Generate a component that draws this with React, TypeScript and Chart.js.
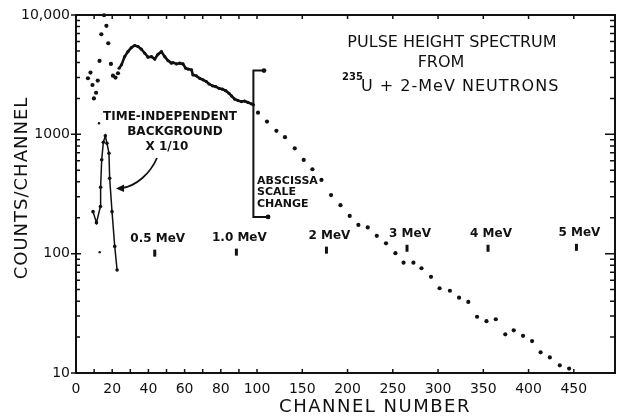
import React, { useEffect, useRef } from 'react';
import { Chart, registerables, LinearScale } from 'chart.js';

Chart.register(...registerables);

// ---------- data (channel number, counts/channel) ----------
const X_TICKS = [0, 10, 20, 30, 40, 50, 60, 70, 80, 90, 100, 150, 200, 250, 300, 350, 400, 450];
const X_TICK_LABELS = ['0', '20', '40', '60', '80', '100', '150', '200', '250', '300', '350', '400', '450'];
const Y_TICKS = [10, 100, 1000, 10000];
const Y_TICK_LABELS = ['10', '100', '1000', '10,000'];

// scattered points at the low-channel end of the spectrum
const EARLY_CH = [6.6, 8.0, 9.1, 9.9, 11.1, 12.0, 13.0, 14.0, 15.5, 16.8, 17.8, 19.3, 20.4, 21.8, 23.2];
const EARLY_COUNTS = [2950, 3290, 2590, 2000, 2230, 2820, 4120, 6900, 9950, 8110, 5800, 3890, 3100, 2990, 3250];

// dense part of the spectrum up to the abscissa scale change
const DENSE_CH = [23.8, 25.1, 26.9, 28.7, 30.6, 32.4, 34.3, 36.1, 38.0, 39.8, 41.7, 43.5, 45.3, 47.2, 49.0, 50.8, 52.7, 53.6, 55.5, 57.3, 59.1, 60.6, 61.9, 63.8, 64.6, 66.5, 68.3, 70.2, 72.0, 73.5, 75.4, 77.2, 79.0, 80.9, 82.7, 84.5, 85.9, 87.7, 89.5, 91.4, 93.2, 95.0, 96.9, 98.0];
const DENSE_COUNTS = [3580, 3820, 4480, 4930, 5330, 5550, 5440, 5170, 4780, 4430, 4480, 4270, 4690, 4930, 4480, 4150, 3950, 3990, 3890, 3950, 3890, 3580, 3520, 3470, 3150, 3090, 2950, 2860, 2770, 2640, 2550, 2510, 2430, 2390, 2320, 2210, 2100, 1970, 1920, 1880, 1900, 1850, 1800, 1770];

// points beyond the scale change
const HIGH_CH = [101.1, 111.0, 121.4, 130.9, 141.7, 151.6, 161.2, 171.2, 181.8, 192.2, 202.4, 212.0, 222.3, 232.3, 242.5, 252.9, 261.9, 272.8, 281.7, 292.2, 301.7, 313.1, 323.2, 333.4, 343.1, 353.5, 363.8, 374.3, 383.6, 393.9, 403.9, 413.3, 423.5, 434.5, 444.8];
const HIGH_COUNTS = [1520, 1280, 1070, 946, 764, 610, 510, 415, 310, 255, 207, 174, 166, 141, 122, 101, 84, 84, 75.5, 64, 51.3, 48.9, 42.8, 39.4, 29.6, 27.2, 28.2, 21.1, 22.8, 20.5, 18.5, 14.9, 13.5, 11.6, 10.9];

// time-independent background x 1/10
const BG_CH = [9.4, 11.3, 13.5, 13.6, 14.2, 15.1, 16.2, 17.1, 18.2, 18.6, 19.9, 21.4, 22.7];
const BG_COUNTS = [225, 182, 248, 360, 612, 859, 971, 842, 695, 428, 225, 115, 73];

// isolated stray dots
const STRAY_CH = [12.7, 13.1];
const STRAY_COUNTS = [1240, 103];

// energy calibration markers
const MEV_LABELS = ['0.5 MeV', '1.0 MeV', '2 MeV', '3 MeV', '4 MeV', '5 MeV'];
const MEV_CH = [43.5, 88.6, 176.7, 265.7, 355.2, 452.9];
const MEV_COUNTS = [101, 103, 107, 111, 111, 113];

// abscissa scale change bracket
const BRACKET_CH = [107.7, 98.0, 98.0, 112.2];
const BRACKET_COUNTS = [3420, 3420, 203, 203];

// axis break: channels above 100 are drawn at half scale
const BREAK_CH = 100;
const HIGH_RATIO = 0.5;
const X_MIN = 0;
const X_MAX = 495.5;

const INK = '#111111';
const FONT = '"DejaVu Sans", "Liberation Sans", sans-serif';

const toAxisUnits = (ch: number) => (ch <= BREAK_CH ? ch : BREAK_CH + (ch - BREAK_CH) * HIGH_RATIO);
const fromAxisUnits = (u: number) => (u <= BREAK_CH ? u : BREAK_CH + (u - BREAK_CH) / HIGH_RATIO);

class BrokenLinearScale extends LinearScale {
  static id = 'brokenLinear';
  static defaults = LinearScale.defaults;
  buildTicks() {
    return X_TICKS.map((v) => ({ value: v }));
  }
  getPixelForValue(value: number) {
    const u0 = toAxisUnits(X_MIN);
    const u1 = toAxisUnits(X_MAX);
    return this.getPixelForDecimal((toAxisUnits(value) - u0) / (u1 - u0));
  }
  getValueForPixel(pixel: number) {
    const u0 = toAxisUnits(X_MIN);
    const u1 = toAxisUnits(X_MAX);
    return fromAxisUnits(u0 + this.getDecimalForPixel(pixel) * (u1 - u0));
  }
}
Chart.register(BrokenLinearScale as any);

const pts = (xs: number[], ys: number[]) => xs.map((x, i) => ({ x, y: ys[i] }));

const overlay = {
  id: 'overlay',
  afterDatasetsDraw(chart: any) {
    const { ctx, chartArea: a, scales } = chart;
    const xs = scales.x;
    const ys = scales.y;
    ctx.save();
    ctx.strokeStyle = INK;
    ctx.fillStyle = INK;

    // frame
    ctx.lineWidth = 2;
    ctx.strokeRect(a.left, a.top, a.right - a.left, a.bottom - a.top);

    // x ticks (inside, bottom and top)
    ctx.lineWidth = 1.5;
    ctx.beginPath();
    X_TICKS.forEach((v) => {
      const px = xs.getPixelForValue(v);
      ctx.moveTo(px, a.bottom);
      ctx.lineTo(px, a.bottom - 4);
      ctx.moveTo(px, a.top);
      ctx.lineTo(px, a.top + 4);
    });
    // y ticks
    for (let d = 10; d <= 10000; d *= 10) {
      for (let m = 1; m <= 9; m++) {
        const v = d * m;
        if (v > 10000) break;
        const py = ys.getPixelForValue(v);
        if (m === 1) {
          ctx.moveTo(a.left - 5, py);
          ctx.lineTo(a.left + 5, py);
          ctx.moveTo(a.right, py);
          ctx.lineTo(a.right - 10, py);
        } else {
          ctx.moveTo(a.left, py);
          ctx.lineTo(a.left + 4, py);
          ctx.moveTo(a.right, py);
          ctx.lineTo(a.right - 5, py);
        }
      }
    }
    ctx.stroke();

    // axis titles
    ctx.textAlign = 'center';
    ctx.textBaseline = 'middle';
    ctx.font = `18px ${FONT}`;
    (ctx as any).letterSpacing = '1.5px';
    ctx.fillText('CHANNEL NUMBER', 375, 407);
    ctx.save();
    ctx.translate(22.5, 188);
    ctx.rotate(-Math.PI / 2);
    (ctx as any).letterSpacing = '1px';
    ctx.fillText('COUNTS/CHANNEL', 0, 0);
    ctx.restore();
    (ctx as any).letterSpacing = '0px';

    // figure caption
    ctx.font = `16px ${FONT}`;
    ctx.fillText('PULSE HEIGHT SPECTRUM', 452, 43);
    ctx.fillText('FROM', 441, 63);
    ctx.textAlign = 'left';
    (ctx as any).letterSpacing = '1px';
    ctx.fillText('U + 2-MeV NEUTRONS', 361, 87);
    (ctx as any).letterSpacing = '0px';
    ctx.font = `bold 10px ${FONT}`;
    ctx.fillText('235', 342, 77);

    // background annotation
    ctx.textAlign = 'center';
    ctx.font = `bold 12px ${FONT}`;
    ctx.fillText('TIME-INDEPENDENT', 170, 117);
    ctx.fillText('BACKGROUND', 175, 132);
    ctx.fillText('X 1/10', 167, 147);

    // arrow
    ctx.lineWidth = 1.8;
    ctx.beginPath();
    ctx.moveTo(157, 158);
    ctx.bezierCurveTo(150, 174, 136, 186, 122, 188);
    ctx.stroke();
    ctx.beginPath();
    ctx.moveTo(116, 188.5);
    ctx.lineTo(124, 184.5);
    ctx.lineTo(124, 192);
    ctx.closePath();
    ctx.fill();

    // scale change annotation
    ctx.textAlign = 'left';
    ctx.font = `bold 11px ${FONT}`;
    ctx.fillText('ABSCISSA', 257, 181);
    ctx.fillText('SCALE', 257, 192.5);
    ctx.fillText('CHANGE', 257, 204.5);

    // MeV labels
    ctx.textAlign = 'center';
    ctx.font = `bold 12px ${FONT}`;
    MEV_LABELS.forEach((lab, i) => {
      const px = xs.getPixelForValue(MEV_CH[i]);
      const py = ys.getPixelForValue(MEV_COUNTS[i]);
      ctx.fillText(lab, px + 3, py - 14.5);
    });
    ctx.restore();
  },
};

export default function App() {
  const ref = useRef<HTMLCanvasElement>(null);
  useEffect(() => {
    if (!ref.current) return;
    const dot = { showLine: false, pointRadius: 2.1, pointBackgroundColor: INK, pointBorderWidth: 0, clip: false as any };
    const chart = new Chart(ref.current, {
      type: 'scatter',
      data: {
        datasets: [
          { label: 'early', data: pts(EARLY_CH, EARLY_COUNTS), ...dot },
          {
            label: 'spectrum',
            data: pts(DENSE_CH, DENSE_COUNTS),
            showLine: true,
            borderColor: INK,
            borderWidth: 2.6,
            pointRadius: 1.6,
            pointBackgroundColor: INK,
            pointBorderWidth: 0,
            clip: false as any,
          },
          { label: 'high', data: pts(HIGH_CH, HIGH_COUNTS), ...dot },
          {
            label: 'background',
            data: pts(BG_CH, BG_COUNTS),
            showLine: true,
            borderColor: INK,
            borderWidth: 1.5,
            pointRadius: 1.8,
            pointBackgroundColor: INK,
            pointBorderWidth: 0,
            clip: false as any,
          },
          { label: 'stray', data: pts(STRAY_CH, STRAY_COUNTS), ...dot, pointRadius: 1.2 },
          {
            label: 'bracket',
            data: pts(BRACKET_CH, BRACKET_COUNTS),
            showLine: true,
            borderColor: INK,
            borderWidth: 2,
            pointRadius: [2.4, 0, 0, 2.4],
            pointBackgroundColor: INK,
            pointBorderWidth: 0,
            clip: false as any,
          },
          {
            label: 'markers',
            data: pts(MEV_CH, MEV_COUNTS),
            showLine: false,
            pointStyle: 'line',
            rotation: 90,
            pointRadius: 3.5,
            borderColor: INK,
            pointBorderColor: INK,
            pointBorderWidth: 3,
            clip: false as any,
          },
        ],
      },
      options: {
        animation: false,
        responsive: false,
        devicePixelRatio: 1,
        events: [],
        layout: { padding: { left: 0, top: 15, right: 8, bottom: 0 } },
        plugins: { legend: { display: false }, tooltip: { enabled: false }, title: { display: false } },
        scales: {
          x: {
            type: 'brokenLinear' as any,
            min: X_MIN,
            max: X_MAX,
            grid: { display: false, drawTicks: false },
            border: { display: false },
            ticks: {
              autoSkip: false,
              maxRotation: 0,
              padding: 8,
              color: INK,
              font: { family: FONT, size: 14 },
              callback: (v: any) => (X_TICK_LABELS.includes(String(v)) ? String(v) : ''),
            },
            afterFit: (s: any) => {
              s.height = 43;
            },
          } as any,
          y: {
            type: 'logarithmic',
            min: 10,
            max: 10000,
            grid: { display: false, drawTicks: false },
            border: { display: false },
            ticks: {
              autoSkip: false,
              padding: 6,
              color: INK,
              font: { family: FONT, size: 14 },
              callback: (v: any) => {
                const i = Y_TICKS.indexOf(Number(v));
                return i >= 0 ? Y_TICK_LABELS[i] : '';
              },
            },
            afterBuildTicks: (s: any) => {
              s.ticks = Y_TICKS.map((v) => ({ value: v }));
            },
            afterFit: (s: any) => {
              s.width = 76;
            },
          },
        },
      },
      plugins: [overlay],
    });
    return () => chart.destroy();
  }, []);
  return (
    <div style={{ position: 'fixed', left: 0, top: 0, width: 623, height: 416, background: '#fff' }}>
      <canvas ref={ref} width={623} height={416} style={{ display: 'block' }} />
    </div>
  );
}
